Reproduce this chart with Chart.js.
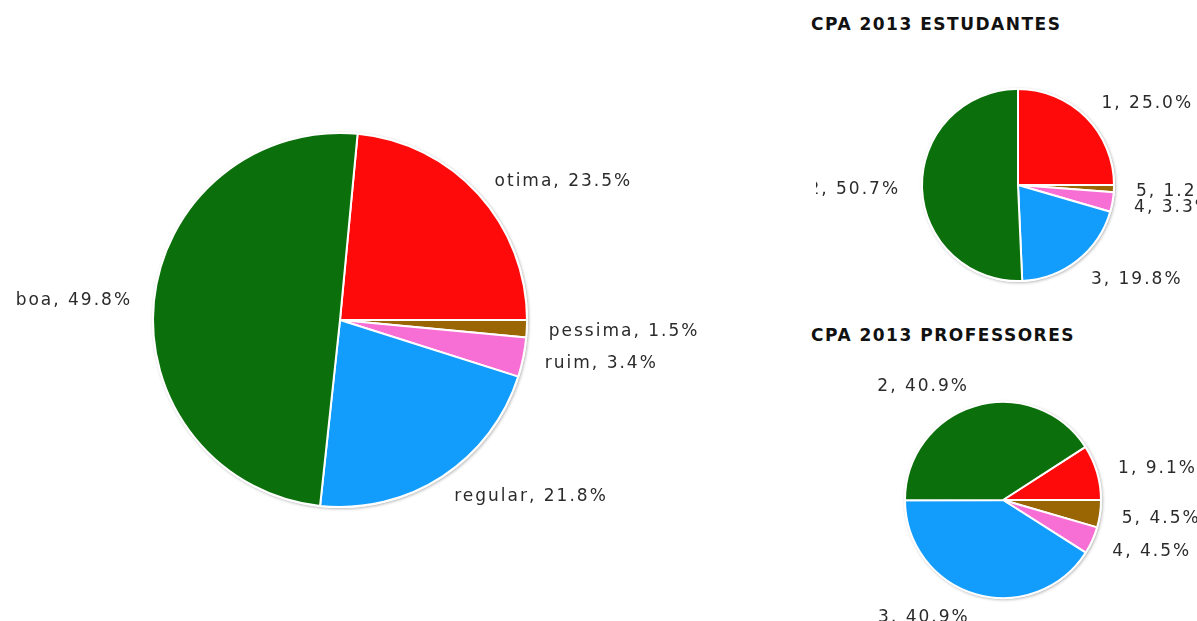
<!DOCTYPE html>
<html lang="pt">
<head>
  <meta charset="UTF-8">
  <title>CPA 2013</title>
  <script src="https://cdn.jsdelivr.net/npm/chart.js"></script>
  <style>
    body {
      margin: 0;
      padding: 0;
      background: #fff;
      width: 1197px;
      height: 621px;
      overflow: hidden;
      position: relative;
    }
    canvas {
      position: absolute;
    }
    .title {
      position: absolute;
      left: 811px;
      margin: 0;
      font-family: "DejaVu Sans", Verdana, sans-serif;
      font-weight: bold;
      font-size: 17px;
      letter-spacing: 1.5px;
      color: #111;
      white-space: nowrap;
    }
  </style>
</head>
<body>
  <canvas id="geral" width="800" height="621" style="left:0;top:0"></canvas>

  <div class="title" style="top:14px">CPA 2013 ESTUDANTES</div>
  <canvas id="estudantes" width="381" height="310" style="left:816px;top:0"></canvas>

  <div class="title" style="top:325px">CPA 2013 PROFESSORES</div>
  <canvas id="professores" width="386" height="311" style="left:811px;top:310px"></canvas>

  <script>
    // data
    const geralLabels = ['otima', 'pessima', 'ruim', 'regular', 'boa'];
    const geralValues = [23.5, 1.5, 3.4, 21.8, 49.8];

    const estudantesLabels = ['1', '5', '4', '3', '2'];
    const estudantesValues = [25.0, 1.2, 3.3, 19.8, 50.7];

    const professoresLabels = ['1', '5', '4', '3', '2'];
    const professoresValues = [9.1, 4.5, 4.5, 40.9, 40.9];

    const sliceColors = ['#fe0a0a', '#9a6603', '#f76fd4', '#129cfc', '#0b6f0b'];

    // soft shadow under the pie
    const pieShadow = {
      id: 'pieShadow',
      beforeDatasetsDraw(chart) {
        const arc = chart.getDatasetMeta(0).data[0];
        if (!arc) return;
        const ctx = chart.ctx;
        ctx.save();
        ctx.shadowColor = 'rgba(0,0,0,0.28)';
        ctx.shadowBlur = 3;
        ctx.shadowOffsetX = 1;
        ctx.shadowOffsetY = 1;
        ctx.fillStyle = '#fff';
        ctx.beginPath();
        ctx.arc(arc.x, arc.y, arc.outerRadius + 1, 0, Math.PI * 2);
        ctx.fill();
        ctx.restore();
      }
    };

    // "label, xx.x%" outside each slice
    const outsideLabels = {
      id: 'outsideLabels',
      afterDatasetsDraw(chart) {
        const ctx = chart.ctx;
        const meta = chart.getDatasetMeta(0);
        const values = chart.data.datasets[0].data;
        ctx.save();
        ctx.font = '17px "DejaVu Sans", Verdana, sans-serif';
        ctx.letterSpacing = '2px';
        ctx.fillStyle = '#2b2b2b';
        ctx.textBaseline = 'middle';
        meta.data.forEach((arc, i) => {
          const p = arc.getProps(['x', 'y', 'startAngle', 'endAngle', 'outerRadius']);
          const mid = (p.startAngle + p.endAngle) / 2;
          const r = p.outerRadius + 22;
          const px = p.x + Math.cos(mid) * r;
          const py = p.y + Math.sin(mid) * r + 2;
          ctx.textAlign = Math.cos(mid) >= 0 ? 'left' : 'right';
          ctx.fillText(chart.data.labels[i] + ', ' + values[i].toFixed(1) + '%', px, py);
        });
        ctx.restore();
      }
    };

    function makePie(id, labels, values, padding) {
      const total = values.reduce((a, b) => a + b, 0);
      // first slice ends at 3 o'clock
      const rotation = 90 - 360 * values[0] / total;
      return new Chart(document.getElementById(id), {
        type: 'pie',
        data: {
          labels: labels,
          datasets: [{
            data: values,
            backgroundColor: sliceColors,
            borderColor: '#fff',
            borderWidth: 2
          }]
        },
        options: {
          responsive: false,
          animation: false,
          rotation: rotation,
          layout: { padding: padding },
          plugins: {
            legend: { display: false },
            tooltip: { enabled: false }
          }
        },
        plugins: [pieShadow, outsideLabels]
      });
    }

    makePie('geral', geralLabels, geralValues, { left: 152, right: 272, top: 132, bottom: 113 });
    makePie('estudantes', estudantesLabels, estudantesValues, { left: 105, right: 82, top: 88, bottom: 28 });
    makePie('professores', professoresLabels, professoresValues, { left: 93, right: 95, top: 91, bottom: 22 });
  </script>
</body>
</html>
